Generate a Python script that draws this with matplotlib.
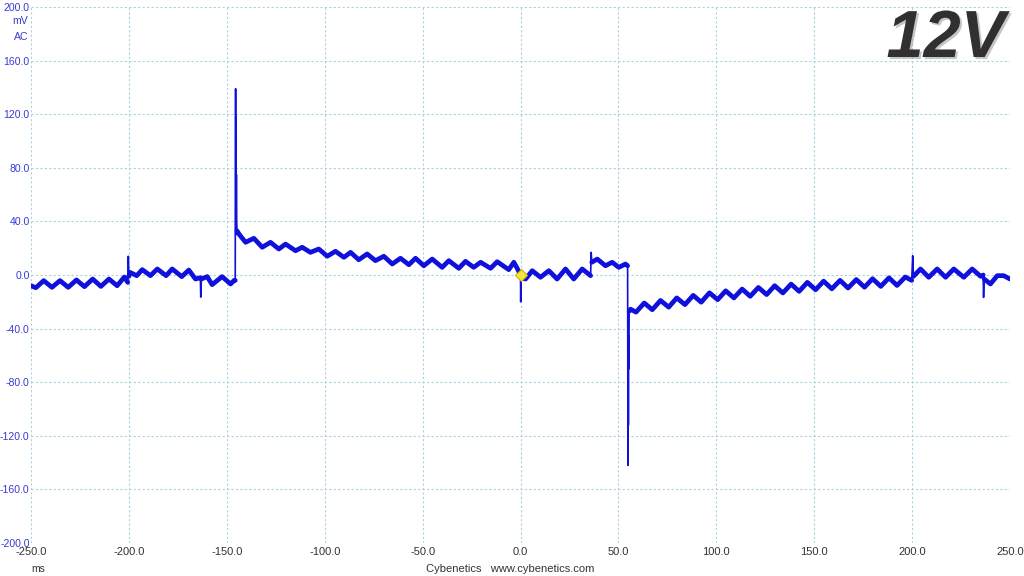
import numpy as np
import matplotlib
matplotlib.use('Agg')
from matplotlib import pyplot as plt
import matplotlib.patheffects as pe

# trace (ms, mV)
trace_t = [
    -250.0, -247.5, -243.5, -239.3, -235.2, -231.0, -226.8, -222.7, -218.5, -214.3, -210.2, -206.0,
    -202.3, -200.6, -200.3, -200.0,
    -199.5, -196.0, -193.2, -189.0, -185.5, -181.0, -177.9, -173.0, -169.4, -166.0, -163.5, -163.3, -163.0,
    -160.0, -157.5, -152.4, -148.1, -146.2, -145.7,
    -145.5, -145.4, -145.3, -145.2, -145.1, -145.0, -144.8,
    -143.5, -140.4, -136.2, -131.9, -127.7, -123.4, -120.0, -114.9, -111.5, -107.3, -103.0, -98.7,
    -94.5, -90.2, -86.8, -82.6, -78.3, -74.1, -69.8, -65.5, -61.3, -57.0, -53.6, -49.4, -45.1, -40.0,
    -36.6, -31.5, -28.1, -23.9, -20.4, -15.3, -11.9, -6.0, -3.4, -1.5, 0.0, 0.1, 0.3,
    2.6, 6.0, 10.2, 14.5, 18.7, 23.0, 27.2, 31.5, 35.8, 36.1, 36.4, 39.2, 43.4, 46.8, 50.2, 53.6, 54.7,
    54.9, 55.0, 55.1, 55.2, 55.3, 55.5, 56.2,
    59.0, 63.2, 67.3, 71.5, 75.7, 79.8, 84.0, 88.2, 92.3, 96.5, 100.7, 104.8, 109.0, 113.2, 117.3,
    121.5, 125.7, 129.8, 134.0, 138.2, 142.3, 146.5, 150.7, 154.8, 159.0, 163.2, 167.3, 171.5, 175.7,
    179.8, 184.0, 188.2, 192.3, 196.5, 199.8, 200.3, 200.7,
    204.3, 208.5, 212.8, 217.1, 221.3, 226.4, 230.7, 235.0, 236.3, 236.5, 236.8, 240.0, 243.5, 246.8, 250.0,
]
trace_v = [
    -8.0, -9.5, -4.2, -9.2, -4.2, -9.2, -3.7, -8.7, -3.0, -8.5, -3.0, -8.0,
    -1.5, -5.5, 14.0, -1.0,
    2.0, -0.5, 4.0, -0.5, 4.5, -0.5, 4.5, -1.2, 3.7, -3.0, -2.0, -16.5, -3.0,
    -1.2, -7.2, -1.2, -6.7, -4.0, -4.0,
    139.0, 30.0, 118.0, 40.0, 75.0, 42.0, 33.0,
    30.0, 24.4, 27.4, 20.7, 24.4, 19.4, 23.1, 18.1, 20.7, 16.9, 19.4, 14.0,
    17.7, 13.2, 16.9, 11.4, 15.7, 10.7, 14.0, 8.2, 12.5, 7.7, 12.5, 6.9, 11.9, 5.7,
    10.7, 5.0, 10.2, 5.7, 9.5, 5.0, 9.9, 4.0, 9.5, 4.5, 0.0, -20.0, -2.0,
    -3.0, 3.2, -1.7, 3.2, -3.0, 4.5, -3.0, 4.5, -0.5, 16.9, 9.5, 11.9, 6.9, 9.5, 5.7, 8.2, 6.9,
    -142.0, -60.0, -112.0, -45.0, -70.0, -27.0, -25.5,
    -27.7, -20.9, -25.9, -19.0, -24.0, -17.1, -22.1, -15.2, -20.3, -13.3, -18.4, -11.8, -17.1, -10.5, -15.9,
    -9.3, -14.6, -8.0, -13.4, -6.8, -12.2, -5.5, -11.0, -4.6, -10.3, -4.0, -9.7, -3.4, -9.1,
    -2.8, -8.5, -2.1, -7.8, -1.5, -4.0, 14.4, -1.0,
    4.5, -1.7, 4.5, -1.7, 4.5, -1.7, 4.5, -1.0, 0.0, -16.7, -3.0, -6.7, -0.5, -0.5, -3.0,
]
# narrow glitches, drawn thin only
spike_t = [-200.3, -163.3, -145.5, -145.4, -145.3, -145.2, -145.1, -145.0,
           0.1, 36.1, 54.9, 55.0, 55.1, 55.2, 55.3, 200.3, 236.5]

x_ticks = np.arange(-250, 251, 50)
y_ticks = np.arange(-200, 201, 40)

t = np.array(trace_t)
v = np.array(trace_v)
v_thick = np.where(np.isin(t, spike_t), np.nan, v)

plt.rcParams['font.family'] = ['Liberation Sans', 'DejaVu Sans']

fig = plt.figure(figsize=(10.24, 5.76), dpi=100)
ax = fig.add_axes([31 / 1024, 33 / 576, 979 / 1024, 536 / 576])

blue = '#1010dc'
ax.plot(t, v, color=blue, lw=1.2, zorder=3)
ax.plot(t, v_thick, color=blue, lw=3.4, solid_joinstyle='round', solid_capstyle='round', zorder=3)
ax.plot([0], [0], marker='D', ms=6, color='#f5e642', mec='#c9b400', mew=0.8, zorder=5)

ax.set_xlim(-250, 250)
ax.set_ylim(-200, 200)
ax.set_xticks(x_ticks)
ax.set_yticks(y_ticks)
ax.set_xticklabels(['%.1f' % x for x in x_ticks])
ax.set_yticklabels(['%.1f' % y for y in y_ticks])
ax.tick_params(axis='both', length=0)
ax.tick_params(axis='y', pad=1, labelsize=7.6, labelcolor='#3a3ad0')
ax.tick_params(axis='x', pad=3, labelsize=8, labelcolor='#333333')
ax.grid(True, color='#a9d2e2', ls=(0, (2, 2)), lw=0.8)
for s in ax.spines.values():
    s.set_visible(False)

fig.text(28 / 1024, 1 - 21 / 576, 'mV', ha='right', va='center', fontsize=7.6, color='#3a3ad0')
fig.text(28 / 1024, 1 - 37 / 576, 'AC', ha='right', va='center', fontsize=7.6, color='#3a3ad0')
fig.text(38 / 1024, 1 - 569 / 576, 'ms', ha='center', va='center', fontsize=7.5, color='#333333')
fig.text(510 / 1024, 1 - 569 / 576, 'Cybenetics   www.cybenetics.com', ha='center', va='center',
         fontsize=8, color='#333333')

fig.text(1005 / 1024, 1 - 40 / 576, '12V', ha='right', va='center', fontsize=48,
         weight='bold', style='italic', color='#303030',
         path_effects=[pe.withSimplePatchShadow(offset=(1.5, -1.5), shadow_rgbFace='#a0a0a0', alpha=0.6)])

fig.savefig('out.png', dpi=100)
